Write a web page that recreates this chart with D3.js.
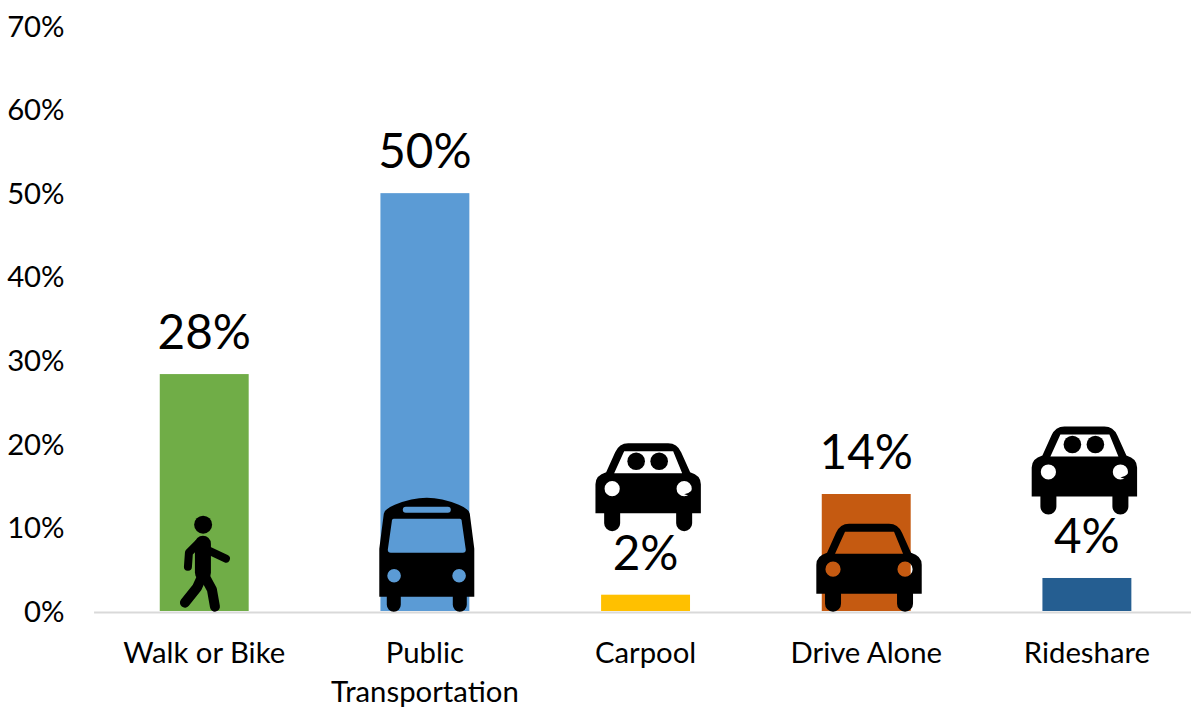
<!DOCTYPE html>
<html><head><meta charset="utf-8">
<script src="https://cdn.jsdelivr.net/npm/d3@7"></script>
<style>
html,body{margin:0;padding:0;background:#fff;overflow:hidden}
svg{display:block}
text{font-family:Lato,"Open Sans",sans-serif;fill:#000}
</style></head><body>
<svg id="c" width="1191" height="707"></svg>
<script>
const categories = ["Walk or Bike", "Public Transportation", "Carpool", "Drive Alone", "Rideshare"];
const shares = [28.35, 50, 1.95, 14, 3.95];
const valueLabels = ["28%", "50%", "2%", "14%", "4%"];
const barColors = ["#70AD47", "#5B9BD5", "#FFC000", "#C55A11", "#255E91"];
const iconNames = ["walker", "bus", "riders", "car", "riders"];
const tickValues = [0, 10, 20, 30, 40, 50, 60, 70];

const svg = d3.select("#c");
const y = d3.scaleLinear().domain([0, 70]).range([611, 26]);
const x = d3.scaleBand().domain(categories).range([93.56, 1197.56]).paddingInner(0.597).paddingOuter(0.3);

// value axis
const yAxis = svg.append("g").attr("transform", "translate(64.6,0)")
  .call(d3.axisLeft(y).tickValues(tickValues).tickSize(0).tickPadding(0).tickFormat(d => d + "%"));
yAxis.select(".domain").remove();
yAxis.selectAll("text").attr("font-size", 29.3).style("font-family", "Lato").attr("dy", "0.35em");

// bars
svg.selectAll("rect.bar").data(categories).join("rect").attr("class", "bar")
  .attr("x", d => x(d)).attr("width", x.bandwidth())
  .attr("y", (d, i) => y(shares[i])).attr("height", (d, i) => y(0) - y(shares[i]))
  .attr("fill", (d, i) => barColors[i]);

// category axis
const xAxis = svg.append("g").attr("transform", "translate(0,612)")
  .call(d3.axisBottom(x).tickSize(0).tickFormat(""));
xAxis.select(".domain").attr("stroke", "#D9D9D9").attr("stroke-width", 2);
xAxis.selectAll(".tick").each(function (d) {
  const words = d === "Public Transportation" ? ["Public", "Transportation"] : [d];
  const t = d3.select(this).append("text").attr("text-anchor", "middle").attr("font-size", 29.3);
  words.forEach((w, k) => t.append("tspan").attr("x", 0).attr("y", 51 + k * 39).text(w));
});

// value labels
svg.selectAll("text.val").data(categories).join("text").attr("class", "val")
  .attr("x", d => x(d) + x.bandwidth() / 2).attr("y", (d, i) => y(shares[i]) - 25)
  .attr("text-anchor", "middle").attr("font-size", 47.6)
  .text((d, i) => valueLabels[i]);

// icons: local coordinates, origin at bottom-centre of the glyph
const carBody = "M-52.7,-18 L-52.7,-47 Q-52.7,-56 -42,-59 L-33,-79 Q-29,-88 -20,-88 L20,-88 Q29,-88 33,-79 L42,-59 Q52.7,-56 52.7,-47 L52.7,-18 L44,-18 L44,-8 A8,8 0 0 1 28,-8 L28,-18 L-28,-18 L-28,-8 A8,8 0 0 1 -44,-8 L-44,-18 Z"
  + " M-24,-80 L-34,-58 L34,-58 L25,-80 Z";
const lamp = cx => `M${cx - 7.6},-42.5 a7.6,7.6 0 1 0 15.2,0 a7.6,7.6 0 1 0 -15.2,0 Z`;
const iconDraw = {
  car(g) {
    g.append("path").attr("fill-rule", "evenodd").attr("d", carBody + lamp(-36) + lamp(36));
  },
  riders(g) {
    g.append("path").attr("fill-rule", "evenodd").attr("d", carBody + lamp(-36) + lamp(36));
    g.append("circle").attr("cx", -12).attr("cy", -70).attr("r", 8.8);
    g.append("circle").attr("cx", 11).attr("cy", -70).attr("r", 8.8);
    g.append("path").attr("d", "M36,-37 L43,-35 L44,-41 Q41,-38 36,-37 Z");
  },
  bus(g) {
    g.append("path").attr("fill-rule", "evenodd").attr("d",
      "M-47.5,-63 L-47.5,-15 L-40,-15 L-40,-7 A7,7 0 0 0 -26,-7 L-26,-15 L26,-15 L26,-7 A7,7 0 0 0 40,-7 L40,-15 L47.5,-15 L47.5,-63 L43,-98 Q42,-103 32,-107 Q15,-114 0,-114 Q-15,-114 -32,-107 Q-42,-103 -43,-98 Z"
      + " M-33,-93 Q-35,-93 -35,-90 L-39,-62 Q-39,-59 -36,-59 L36,-59 Q39,-59 39,-62 L35,-90 Q35,-93 33,-93 Z"
      + " M-21,-105 a2.5,2.5 0 0 0 0,6 L21,-99 a2.5,2.5 0 0 0 0,-6 Z"
      + " M-39.5,-36 a6.8,6.8 0 1 0 13.6,0 a6.8,6.8 0 1 0 -13.6,0 Z"
      + " M25.5,-36 a6.8,6.8 0 1 0 13.6,0 a6.8,6.8 0 1 0 -13.6,0 Z");
  },
  walker(g) {
    g.append("circle").attr("cx", -0.8).attr("cy", -87).attr("r", 9);
    const limb = (d, w) => g.append("path").attr("d", d).attr("fill", "none")
      .attr("stroke", "#000").attr("stroke-width", w).attr("stroke-linecap", "round").attr("stroke-linejoin", "round");
    limb("M-1,-68 L-1,-39", 16);
    limb("M-6,-68 L-15,-59 L-16,-45", 8);
    limb("M5,-61 L22,-53", 8);
    limb("M-2,-35 L-7,-24 L-19,-9", 10);
    limb("M1,-35 L8,-22 L11,-5", 10);
  }
};
const iconCenterShift = [-0.3, 1.9, 2.6, 2.8, -2.5];
const iconAboveLabel = [false, false, true, false, true];
categories.forEach((c, i) => {
  const base = iconAboveLabel[i] ? y(shares[i]) - 63.5 : y(0) + 0.7;
  const g = svg.append("g").attr("transform",
    `translate(${x(c) + x.bandwidth() / 2 + iconCenterShift[i]},${base})`).attr("fill", "#000");
  iconDraw[iconNames[i]](g);
});
</script>
</body></html>
